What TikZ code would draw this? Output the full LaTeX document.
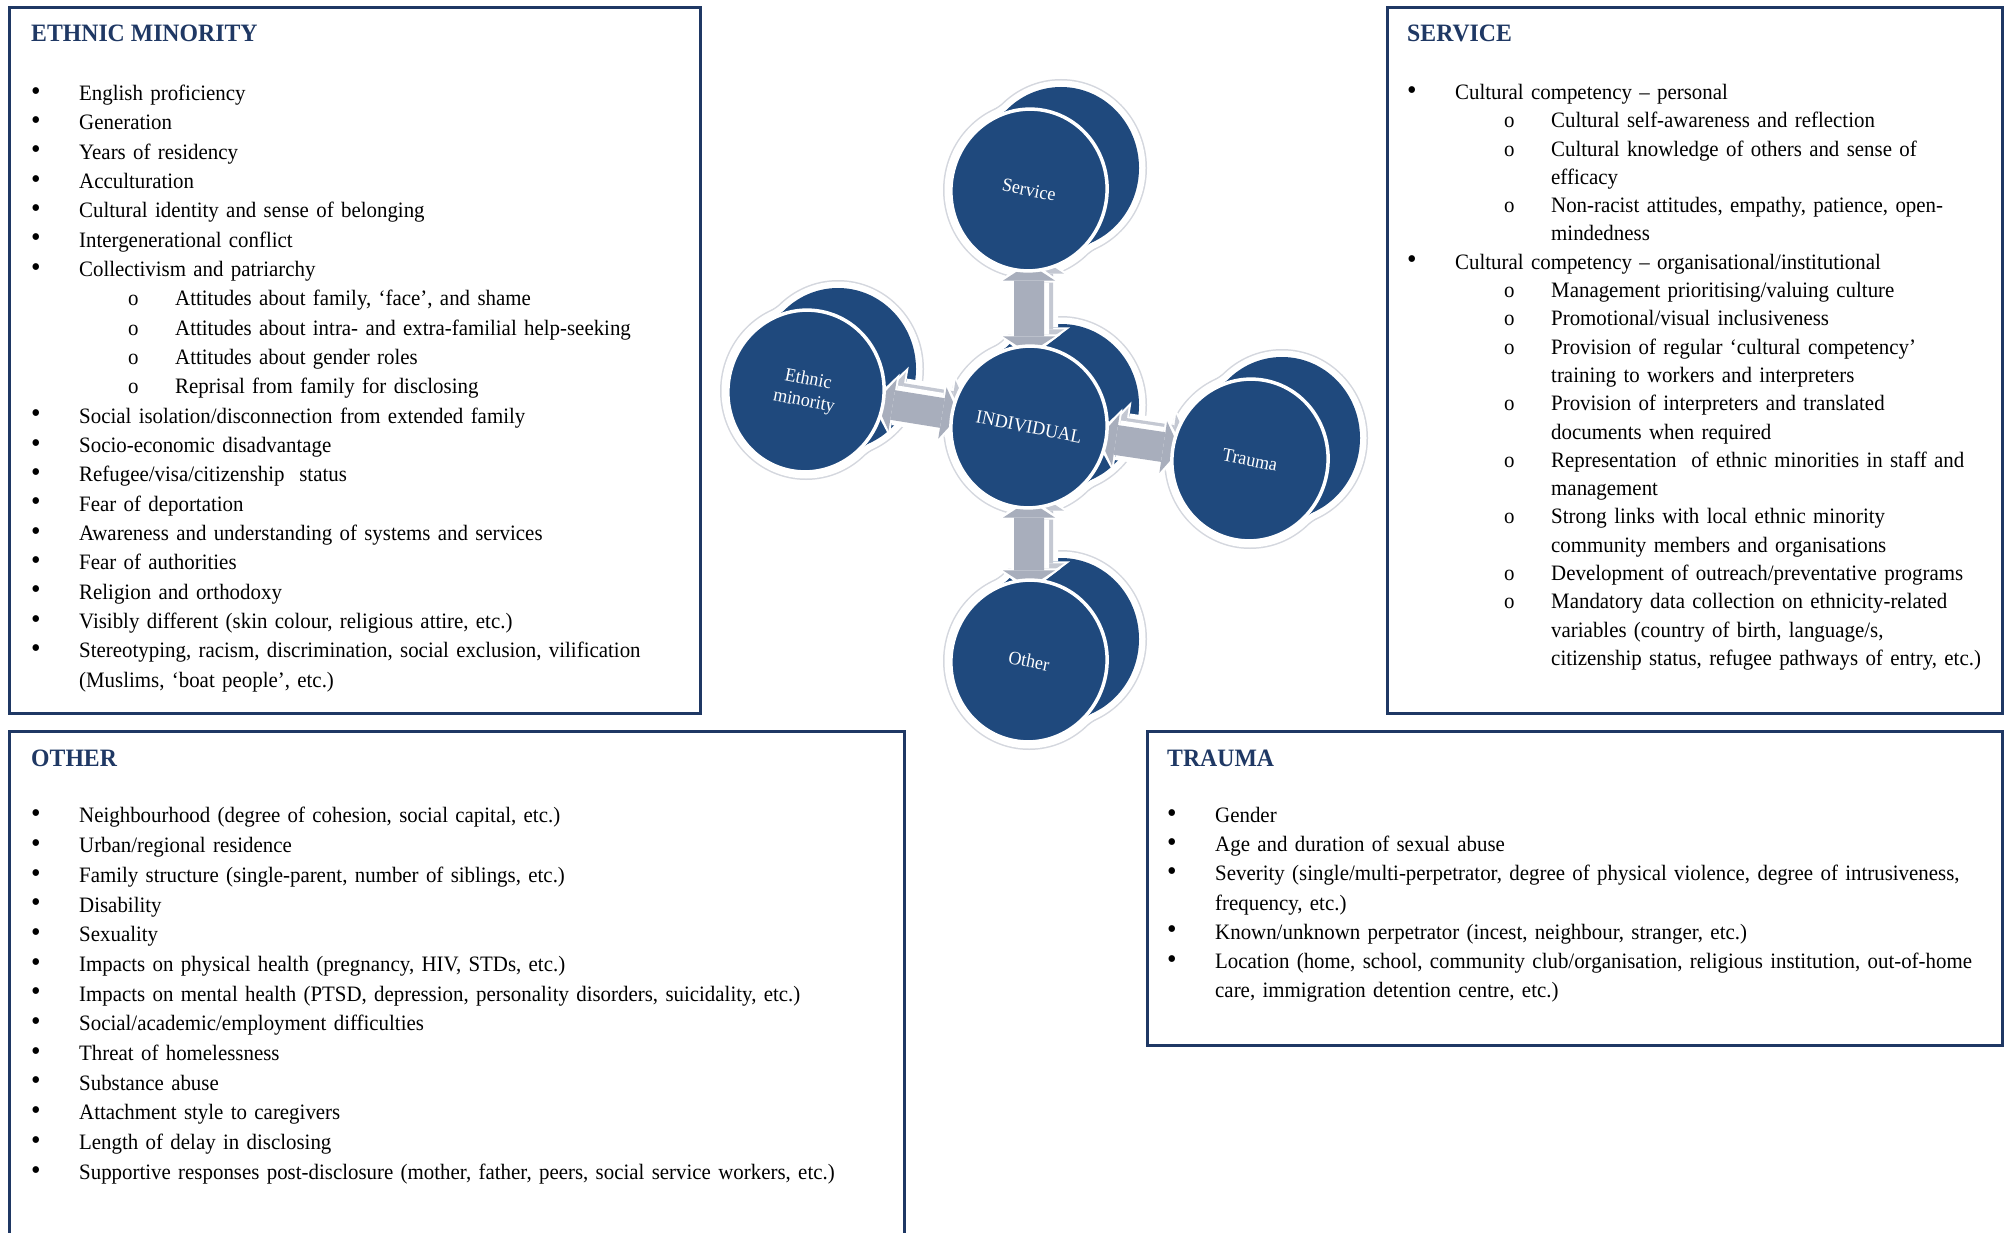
\documentclass[tikz,border=0pt]{standalone}
\usepackage{fontspec}
\setmainfont{Liberation Serif}[FakeStretch=0.95]
\usetikzlibrary{shapes.geometric,arrows.meta,calc}
\pgfdeclarelayer{bg}\pgfdeclarelayer{mid}\pgfsetlayers{bg,mid,main}
\definecolor{navy}{RGB}{31,56,100}
\definecolor{disc}{RGB}{31,73,125}
\definecolor{agray}{RGB}{168,174,188}
\definecolor{aside}{RGB}{196,200,210}
\definecolor{glowc}{RGB}{212,215,222}
\newcommand\bul{\raisebox{0.3pt}{\scalebox{1.3}{\textbullet}}}
\newcommand\bi[1]{\par\hangindent=43pt\hangafter=1\noindent\rule{0pt}{20pt}\hspace*{-5pt}\makebox[48pt][l]{\bul}#1}
\newcommand\si[1]{\par\hangindent=139pt\hangafter=1\noindent\rule{0pt}{20pt}\hspace*{92pt}\makebox[47pt][l]{o}#1}
\newcommand\cylback[1]{%
  \begin{scope}[shift={(#1.center)}]
    \foreach \ee/\cc in {8/glowc,6.5/white,0/disc}{
      \fill[\cc] (0,0) ellipse [x radius={78+\ee}, y radius={81+\ee}];
      \fill[\cc] (32,-22) ellipse [x radius={78+\ee}, y radius={81+\ee}];
      \draw[\cc, line width={(157+2*\ee)*1pt}] (0,0) -- (32,-22);
    }
  \end{scope}}
\newcommand\dblarrow[2]{%
  \draw[aout, transform canvas={shift={(9pt,7pt)}}] (#1) -- (#2);
  \draw[aback, transform canvas={shift={(9pt,7pt)}}] (#1) -- (#2);
  \draw[aout] (#1) -- (#2);
  \draw[afill] (#1) -- (#2);}
\tikzset{
  boxframe/.style={draw=navy, line width=3pt, inner sep=0pt, anchor=north west},
  ttl/.style={anchor=base west, inner sep=0pt, font=\fontsize{25}{28}\selectfont\bfseries, text=navy},
  lst/.style={anchor=north west, inner sep=0pt, align=left},
  front/.style={ellipse, fill=disc, draw=white, line width=3.5pt, minimum width=156pt, minimum height=162pt, inner sep=0pt, text=white, font=\fontsize{19}{22}\selectfont, align=center, rotate=-11},
  aout/.style={draw=white, line width=40pt, {Triangle[width=64pt,length=24pt,line width=0pt]}-{Triangle[width=64pt,length=24pt,line width=0pt]}, shorten <=-14pt, shorten >=-14pt},
  afill/.style={draw=agray, line width=30pt, {Triangle[width=52pt,length=17pt,line width=0pt]}-{Triangle[width=52pt,length=17pt,line width=0pt]}, shorten <=-9pt, shorten >=-9pt},
  aback/.style={afill, draw=aside}
}
\begin{document}
\begin{tikzpicture}[x=1pt,y=-1pt]
\useasboundingbox (0,0) rectangle (2004,1233);

% frames
\node[boxframe, minimum width=691pt, minimum height=706pt] (embox) at (8,6) {};
\node[boxframe, minimum width=615pt, minimum height=706pt] (svbox) at (1386,6) {};
\node[boxframe, minimum width=895pt, minimum height=540pt] (othbox) at (8,730) {};
\node[boxframe, minimum width=855pt, minimum height=314pt] (trbox) at (1146,730) {};

% titles
\node[ttl] (emt) at (31,42) {ETHNIC MINORITY};
\node[ttl] (svt) at (1407,42) {SERVICE};
\node[ttl] (otht) at (31,766) {OTHER};
\node[ttl] (trt) at (1167,766) {TRAUMA};

% lists
\node[lst, text width=660pt, font=\fontsize{22}{29.33}\selectfont] (emlist) at (36,71) {%
\bi{English proficiency}
\bi{Generation}
\bi{Years of residency}
\bi{Acculturation}
\bi{Cultural identity and sense of belonging}
\bi{Intergenerational conflict}
\bi{Collectivism and patriarchy}
\si{Attitudes about family, ‘face’, and shame}
\si{Attitudes about intra- and extra-familial help-seeking}
\si{Attitudes about gender roles}
\si{Reprisal from family for disclosing}
\bi{Social isolation/disconnection from extended family}
\bi{Socio-economic disadvantage}
\bi{Refugee/visa/citizenship\ \ status}
\bi{Fear of deportation}
\bi{Awareness and understanding of systems and services}
\bi{Fear of authorities}
\bi{Religion and orthodoxy}
\bi{Visibly different (skin colour, religious attire, etc.)}
\bi{Stereotyping, racism, discrimination, social exclusion, vilification\newline (Muslims, ‘boat people’, etc.)}\par};

\node[lst, text width=585pt, font=\fontsize{22}{28.3}\selectfont] (svlist) at (1412,71) {%
\bi{Cultural competency – personal}
\si{Cultural self-awareness and reflection}
\si{Cultural knowledge of others and sense of\newline efficacy}
\si{Non-racist attitudes, empathy, patience, open-\newline mindedness}
\bi{Cultural competency – organisational/institutional}
\si{Management prioritising/valuing culture}
\si{Promotional/visual inclusiveness}
\si{Provision of regular ‘cultural competency’\newline training to workers and interpreters}
\si{Provision of interpreters and translated\newline documents when required}
\si{Representation\ \ of ethnic minorities in staff and\newline management}
\si{Strong links with local ethnic minority\newline community members and organisations}
\si{Development of outreach/preventative programs}
\si{Mandatory data collection on ethnicity-related\newline variables (country of birth, language/s,\newline citizenship status, refugee pathways of entry, etc.)}\par};

\node[lst, text width=860pt, font=\fontsize{22}{29.7}\selectfont] (othlist) at (36,793) {%
\bi{Neighbourhood (degree of cohesion, social capital, etc.)}
\bi{Urban/regional residence}
\bi{Family structure (single-parent, number of siblings, etc.)}
\bi{Disability}
\bi{Sexuality}
\bi{Impacts on physical health (pregnancy, HIV, STDs, etc.)}
\bi{Impacts on mental health (PTSD, depression, personality disorders, suicidality, etc.)}
\bi{Social/academic/employment difficulties}
\bi{Threat of homelessness}
\bi{Substance abuse}
\bi{Attachment style to caregivers}
\bi{Length of delay in disclosing}
\bi{Supportive responses post-disclosure (mother, father, peers, social service workers, etc.)}\par};

\node[lst, text width=825pt, font=\fontsize{22}{29.2}\selectfont] (trlist) at (1172,793) {%
\bi{Gender}
\bi{Age and duration of sexual abuse}
\bi{Severity (single/multi-perpetrator, degree of physical violence, degree of intrusiveness,\newline frequency, etc.)}
\bi{Known/unknown perpetrator (incest, neighbour, stranger, etc.)}
\bi{Location (home, school, community club/organisation, religious institution, out-of-home\newline care, immigration detention centre, etc.)}\par};

% central diagram
\node[front] (svc) at (1029,190) {Service};
\node[front] (eth) at (806,391) {Ethnic\\minority};
\node[front] (ind) at (1029,427) {INDIVIDUAL};
\node[front] (trm) at (1250,460) {Trauma};
\node[front] (oth) at (1029,661) {Other};

\begin{pgfonlayer}{bg}
\fill[white] (0,0) rectangle (2004,1233);
\cylback{svc}\cylback{eth}\cylback{ind}\cylback{trm}\cylback{oth}
\end{pgfonlayer}
\begin{pgfonlayer}{mid}
\dblarrow{ind}{svc}
\dblarrow{ind}{eth}
\dblarrow{ind}{trm}
\dblarrow{ind}{oth}
\end{pgfonlayer}
\end{tikzpicture}
\end{document}
